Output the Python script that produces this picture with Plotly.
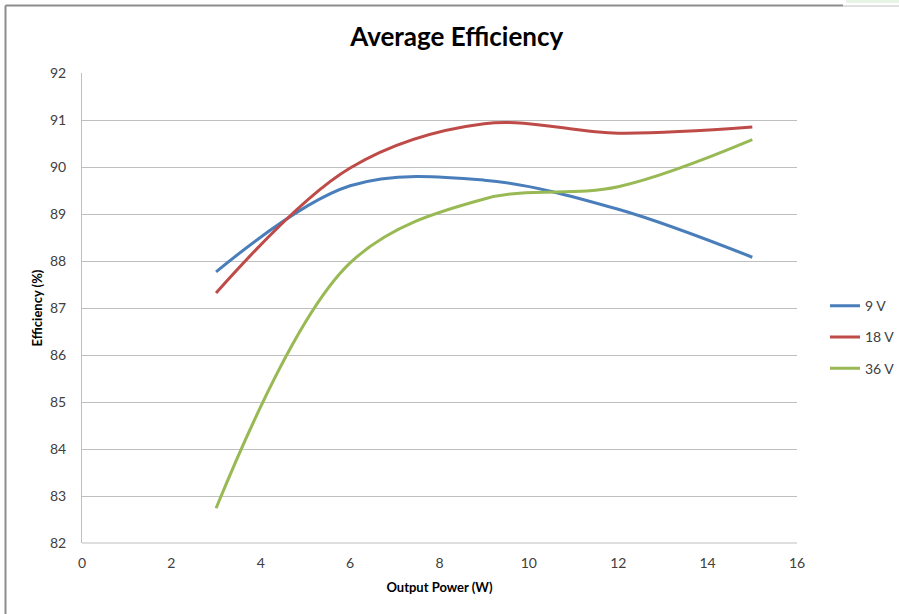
import plotly.graph_objects as go

power_w = [3, 6, 9, 12, 15]
eff_9v = [87.77, 89.6, 89.72, 89.1, 88.08]
eff_18v = [87.32, 89.98, 90.92, 90.72, 90.85]
eff_36v = [82.74, 87.96, 89.32, 89.58, 90.58]

series = [("9 V", eff_9v, "#4a7ebb"), ("18 V", eff_18v, "#be4b48"), ("36 V", eff_36v, "#98b954")]

fig = go.Figure()
for name, vals, col in series:
    fig.add_trace(go.Scatter(x=power_w, y=vals, name=name, mode="lines", legendgroup=name,
                             line=dict(color=col, width=3, shape="spline", smoothing=1.0)))

font_family = "Lato, 'Open Sans', sans-serif"
L, R, T, B = 82, 102, 73, 71
fig.update_layout(
    width=899, height=614,
    margin=dict(l=L, r=R, t=T, b=B, autoexpand=False),
    paper_bgcolor="white", plot_bgcolor="white",
    title=dict(text="<b>Average Efficiency</b>", x=0.508, xanchor="center", y=0.94, yanchor="middle",
               font=dict(family=font_family, size=26, color="black")),
    font=dict(family=font_family, size=14, color="#404040"),
    xaxis=dict(range=[0, 16], dtick=2, showgrid=False, zeroline=False,
               showline=False, ticks="", ticklen=0, ticklabelstandoff=10,
               title=dict(text="<b>Output Power (W)</b>", font=dict(size=13, color="black"), standoff=12)),
    yaxis=dict(range=[82, 92], dtick=1, showgrid=True, gridcolor="#bfbfbf", gridwidth=1,
               zeroline=False, showline=True, linecolor="#bfbfbf", linewidth=1, ticks="",
               ticklabelstandoff=12,
               title=dict(text="<b>Efficiency (%)</b>", font=dict(size=13, color="black"), standoff=4)),
    legend=dict(x=(825 - L) / (899 - L - R), y=0.438, xanchor="left", yanchor="middle",
                bgcolor="rgba(0,0,0,0)", borderwidth=0,
                font=dict(size=14, color="#404040"), tracegroupgap=10, itemwidth=30),
    shapes=[
        dict(type="line", xref="paper", yref="paper", x0=0, x1=1, y0=0, y1=0,
             line=dict(color="#bfbfbf", width=1), layer="below"),
    ],
)

def fx(p):
    return (p - L) / (899 - L - R)
def fy(p):
    return 1 - (p - T) / (614 - T - B)

# outer chart frame
fig.add_shape(type="line", xref="paper", yref="paper", x0=fx(5.5), x1=fx(843), y0=fy(5.5), y1=fy(5.5),
              line=dict(color="#8c8c8c", width=2))
fig.add_shape(type="line", xref="paper", yref="paper", x0=fx(843), x1=fx(899), y0=fy(6), y1=fy(6),
              line=dict(color="#c0c0c0", width=1))
fig.add_shape(type="line", xref="paper", yref="paper", x0=fx(5.5), x1=fx(5.5), y0=fy(5.5), y1=fy(614),
              line=dict(color="#8c8c8c", width=2))
fig.add_shape(type="rect", xref="paper", yref="paper", x0=fx(846), x1=fx(899), y0=fy(0), y1=fy(3),
              fillcolor="#e8f4e6", line=dict(width=0))

fig.write_html("out.html", config={"displayModeBar": False})

with open("out.html", "r", encoding="utf-8") as f:
    html = f.read()
html = html.replace("<head>", "<head><style>html,body{margin:0;padding:0;}</style>", 1)
with open("out.html", "w", encoding="utf-8") as f:
    f.write(html)
